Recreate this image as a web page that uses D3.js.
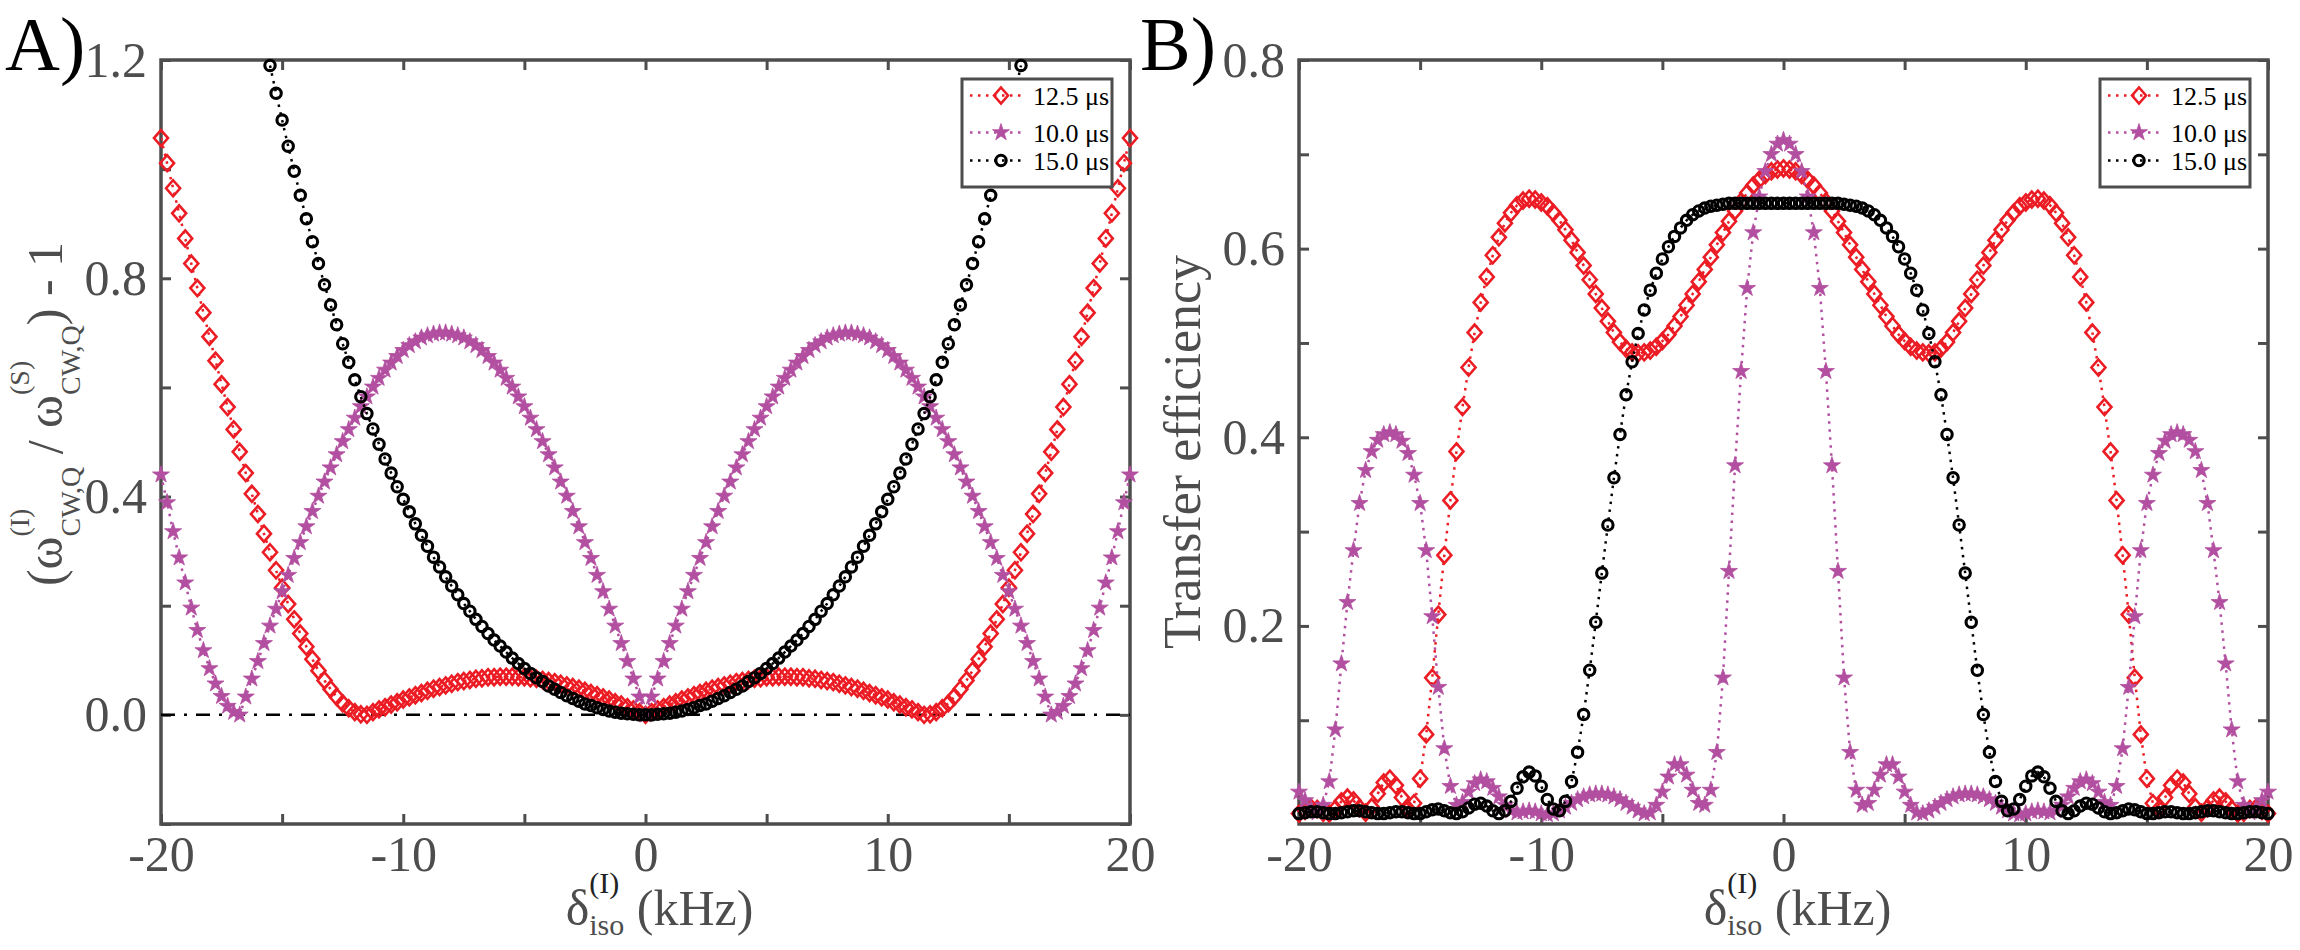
<!DOCTYPE html>
<html>
<head>
<meta charset="utf-8">
<title>Transfer efficiency vs offset</title>
<script src="https://d3js.org/d3.v7.min.js"></script>
<style>
  body { margin: 0; background: #fff; }
  svg text { font-family: 'Liberation Serif', 'Times New Roman', serif; }
</style>
</head>
<body>
<svg id="fig" width="2300" height="950"></svg>
<script>
// offset grid, kHz (-20 .. 20, 0.25 steps)
var offsets = d3.range(161).map(function (i) { return -20 + i * 0.25; });

var seriesNames = ['12.5 \u03bcs', '10.0 \u03bcs', '15.0 \u03bcs'];

// panel A : (w_CW,Q(I) / w_CW,Q(S)) - 1
var ratioRed = [
  1.057,1.011,.965,.919,.873,.827,.782,.737,.693,.649,
  .606,.564,.523,.482,.443,.405,.368,.332,.298,.265,
  .233,.203,.175,.149,.125,.102,.081,.063,.047,.033,
  .021,.012,.005,.001,0,.005,.010,.014,.019,.023,
  .028,.032,.036,.040,.044,.048,.051,.054,.057,.060,
  .062,.064,.066,.067,.069,.069,.070,.070,.070,.069,
  .069,.067,.066,.064,.062,.060,.057,.054,.051,.048,
  .044,.040,.036,.032,.028,.023,.019,.014,.010,.005,
  0,
  .005,.010,.014,.019,.023,.028,.032,.036,.040,.044,
  .048,.051,.054,.057,.060,.062,.064,.066,.067,.069,
  .069,.070,.070,.070,.069,.069,.067,.066,.064,.062,
  .060,.057,.054,.051,.048,.044,.040,.036,.032,.028,
  .023,.019,.014,.010,.005,0,.001,.005,.012,.021,
  .033,.047,.063,.081,.102,.125,.149,.175,.203,.233,
  .265,.298,.332,.368,.405,.443,.482,.523,.564,.606,
  .649,.693,.737,.782,.827,.873,.919,.965,1.011,1.057
];
var ratioMag = [
  .440,.389,.336,.288,.242,.196,.155,.118,.085,.057,
  .034,.016,.005,0,.033,.066,.098,.131,.163,.194,
  .226,.256,.287,.316,.345,.373,.401,.427,.453,.477,
  .501,.523,.544,.565,.583,.601,.617,.632,.645,.657,
  .668,.677,.684,.691,.695,.698,.700,.700,.698,.695,
  .691,.684,.677,.668,.657,.645,.632,.617,.601,.583,
  .565,.544,.523,.501,.477,.453,.427,.401,.373,.345,
  .316,.287,.256,.226,.194,.163,.131,.098,.066,.033,
  0,
  .033,.066,.098,.131,.163,.194,.226,.256,.287,.316,
  .345,.373,.401,.427,.453,.477,.501,.523,.544,.565,
  .583,.601,.617,.632,.645,.657,.668,.677,.684,.691,
  .695,.698,.700,.700,.698,.695,.691,.684,.677,.668,
  .657,.645,.632,.617,.601,.583,.565,.544,.523,.501,
  .477,.453,.427,.401,.373,.345,.316,.287,.256,.226,
  .194,.163,.131,.098,.066,.033,0,.005,.016,.034,
  .057,.085,.118,.155,.196,.242,.288,.336,.389,.440
];
var ratioBlk = [
  null,null,null,null,null,null,null,null,null,null,
  null,null,null,null,null,null,null,null,1.190,1.139,
  1.090,1.042,.996,.952,.909,.867,.827,.788,.751,.715,
  .680,.646,.614,.583,.552,.524,.496,.469,.443,.418,
  .395,.372,.350,.329,.309,.289,.271,.253,.236,.220,
  .204,.190,.175,.162,.149,.137,.126,.115,.104,.094,
  .085,.076,.068,.061,.053,.047,.041,.035,.030,.025,
  .020,.017,.013,.010,.007,.005,.003,.002,.001,0,
  0,
  0,.001,.002,.003,.005,.007,.010,.013,.017,.020,
  .025,.030,.035,.041,.047,.053,.061,.068,.076,.085,
  .094,.104,.115,.126,.137,.149,.162,.175,.190,.204,
  .220,.236,.253,.271,.289,.309,.329,.350,.372,.395,
  .418,.443,.469,.496,.524,.552,.583,.614,.646,.680,
  .715,.751,.788,.827,.867,.909,.952,.996,1.042,1.090,
  1.139,1.190,null,null,null,null,null,null,null,null,
  null,null,null,null,null,null,null,null,null,null
];

// panel B : transfer efficiency
var effRed = [
  .001,.004,.007,.006,.002,.001,.006,.014,.018,.015,
  .007,.002,.008,.022,.034,.038,.031,.018,.006,.012,
  .038,.085,.145,.212,.275,.333,.385,.432,.474,.511,
  .543,.570,.593,.612,.627,.638,.646,.651,.653,.652,
  .649,.645,.638,.630,.620,.609,.596,.582,.567,.552,
  .537,.523,.511,.501,.494,.490,.489,.490,.492,.496,
  .502,.509,.518,.528,.540,.552,.565,.578,.591,.604,
  .617,.629,.640,.650,.659,.667,.673,.678,.682,.684,
  .685,
  .684,.682,.678,.673,.667,.659,.650,.640,.629,.617,
  .604,.591,.578,.565,.552,.540,.528,.518,.509,.502,
  .496,.492,.490,.489,.490,.494,.501,.511,.523,.537,
  .552,.567,.582,.596,.609,.620,.630,.638,.645,.649,
  .652,.653,.651,.646,.638,.627,.612,.593,.570,.543,
  .511,.474,.432,.385,.333,.275,.212,.145,.085,.038,
  .012,.006,.018,.031,.038,.034,.022,.008,.002,.007,
  .015,.018,.014,.006,.001,.002,.006,.007,.004,.001
];
var effMag = [
  .024,.015,.006,.002,.010,.035,.090,.160,.225,.280,
  .330,.365,.385,.397,.403,.405,.403,.396,.383,.360,
  .330,.280,.210,.135,.070,.030,.010,.013,.024,.033,
  .037,.035,.028,.019,.010,.004,.002,.003,.004,.003,
  .001,0,.001,.004,.008,.012,.016,.019,.021,.022,
  .022,.021,.019,.016,.012,.008,.004,.001,.002,.010,
  .024,.040,.053,.053,.042,.026,.012,.010,.026,.066,
  .145,.258,.370,.470,.558,.617,.655,.682,.700,.711,
  .715,
  .711,.700,.682,.655,.617,.558,.470,.370,.258,.145,
  .066,.026,.010,.012,.026,.042,.053,.053,.040,.024,
  .010,.002,.001,.004,.008,.012,.016,.019,.021,.022,
  .022,.021,.019,.016,.012,.008,.004,.001,0,.001,
  .003,.004,.003,.002,.004,.010,.019,.028,.035,.037,
  .033,.024,.013,.010,.030,.070,.135,.210,.280,.330,
  .360,.383,.396,.403,.405,.403,.397,.385,.365,.330,
  .280,.225,.160,.090,.035,.010,.002,.006,.015,.024
];
var effBlk = [
  .001,.002,.003,.003,.002,.001,.001,.002,.003,.004,
  .004,.003,.002,.001,.001,.002,.003,.003,.002,.001,
  .001,.003,.005,.006,.004,.002,.001,.003,.007,.011,
  .012,.009,.004,.001,.004,.014,.028,.040,.045,.041,
  .030,.016,.006,.004,.014,.035,.066,.106,.153,.204,
  .256,.307,.357,.403,.445,.480,.510,.535,.556,.574,
  .589,.602,.613,.622,.630,.636,.640,.643,.645,.646,
  .647,.648,.648,.648,.648,.648,.648,.648,.648,.648,
  .648,
  .648,.648,.648,.648,.648,.648,.648,.648,.648,.647,
  .646,.645,.643,.640,.636,.630,.622,.613,.602,.589,
  .574,.556,.535,.510,.480,.445,.403,.357,.307,.256,
  .204,.153,.106,.066,.035,.014,.004,.006,.016,.030,
  .041,.045,.040,.028,.014,.004,.001,.004,.009,.012,
  .011,.007,.003,.001,.002,.004,.006,.005,.003,.001,
  .001,.002,.003,.003,.002,.001,.001,.002,.003,.004,
  .004,.003,.002,.001,.001,.002,.003,.003,.002,.001
];

var xTicks = [-20, -15, -10, -5, 0, 5, 10, 15, 20];
var xLabels = [-20, -10, 0, 10, 20];
var ratioTicks = [-0.2, 0, 0.2, 0.4, 0.6, 0.8, 1.0, 1.2];
var ratioLabels = [0, 0.4, 0.8, 1.2];
var effTicks = [0.1, 0.2, 0.3, 0.4, 0.5, 0.6, 0.7, 0.8];
var effLabels = [0.2, 0.4, 0.6, 0.8];

var gray = '#4d4d4d';
var colors = ['#ec1c24', '#b24fa0', '#000000'];
var shapes = ['diamond', 'star', 'circle'];

var svg = d3.select('#fig');
svg.append('rect').attr('width', 2300).attr('height', 950).attr('fill', '#fff');

function marker(sel, shape, color) {
  if (shape === 'circle') {
    sel.append('circle').attr('r', 5.2).attr('fill', 'none')
      .attr('stroke', color).attr('stroke-width', 3.1);
  } else if (shape === 'diamond') {
    sel.append('path').attr('d', 'M0,-8L7,0L0,8L-7,0Z').attr('fill', 'none')
      .attr('stroke', color).attr('stroke-width', 2.6);
  } else {
    sel.append('path').attr('d', d3.symbol(d3.symbolStar, 90)())
      .attr('fill', color).attr('stroke', color).attr('stroke-width', 0.8);
  }
}

// text with stacked super/subscripts, laid out left to right
function mathText(parent, parts) {
  var g = parent.append('g');
  var cx = 0;
  parts.forEach(function (p) {
    var runs = Array.isArray(p) ? p : [p];
    var w = 0;
    runs.forEach(function (r) {
      var t = g.append('text')
        .attr('x', cx).attr('y', r.shift || 0)
        .attr('font-size', r.size)
        .attr('fill', r.fill || gray)
        .text(r.t);
      w = Math.max(w, t.node().getComputedTextLength());
    });
    cx += w;
  });
  return { g: g, width: cx };
}

function styleAxis(sel) {
  sel.select('.domain').remove();
  sel.attr('font-size', 50).attr('font-family', "'Liberation Serif', serif");
  sel.selectAll('line').attr('stroke', gray).attr('stroke-width', 3);
  sel.selectAll('text').attr('fill', gray);
}

function drawPanel(p) {
  var x = d3.scaleLinear().domain([-20, 20]).range([p.left, p.right]);
  var y = d3.scaleLinear().domain(p.yDomain).range([p.bottom, p.top]);
  var g = svg.append('g');

  svg.append('clipPath').attr('id', p.id + 'clip').append('rect')
    .attr('x', p.left).attr('y', p.top)
    .attr('width', p.right - p.left).attr('height', p.bottom - p.top);

  var fmtX = function (d) { return xLabels.indexOf(d) >= 0 ? String(d) : ''; };
  var fmtY = function (d) { return p.yLabels.indexOf(d) >= 0 ? d3.format('.1f')(d) : ''; };

  g.append('g').attr('transform', 'translate(0,' + p.bottom + ')')
    .call(d3.axisBottom(x).tickValues(xTicks).tickSize(-10).tickPadding(11).tickFormat(fmtX))
    .call(styleAxis);
  g.append('g').attr('transform', 'translate(0,' + p.top + ')')
    .call(d3.axisTop(x).tickValues(xTicks).tickSize(-10).tickFormat(''))
    .call(styleAxis);
  g.append('g').attr('transform', 'translate(' + p.left + ',0)')
    .call(d3.axisLeft(y).tickValues(p.yTicks).tickSize(-10).tickPadding(14).tickFormat(fmtY))
    .call(styleAxis);
  g.append('g').attr('transform', 'translate(' + p.right + ',0)')
    .call(d3.axisRight(y).tickValues(p.yTicks).tickSize(-10).tickFormat(''))
    .call(styleAxis);

  g.append('rect').attr('x', p.left).attr('y', p.top)
    .attr('width', p.right - p.left).attr('height', p.bottom - p.top)
    .attr('fill', 'none').attr('stroke', gray).attr('stroke-width', 3.5);

  if (p.zeroLine) {
    g.append('line').attr('x1', x(-20)).attr('x2', x(20))
      .attr('y1', y(0)).attr('y2', y(0))
      .attr('stroke', '#000').attr('stroke-width', 2.5)
      .attr('stroke-dasharray', '14,9,3,9');
  }

  var line = d3.line()
    .defined(function (d) { return d[1] != null; })
    .x(function (d) { return x(d[0]); })
    .y(function (d) { return y(d[1]); });

  p.series.forEach(function (vals, i) {
    var pts = offsets.map(function (o, j) { return [o, vals[j]]; });
    g.append('path').datum(pts)
      .attr('clip-path', 'url(#' + p.id + 'clip)')
      .attr('d', line).attr('fill', 'none')
      .attr('stroke', colors[i]).attr('stroke-width', 2.5)
      .attr('stroke-dasharray', '2.5,5.5');
    var shown = pts.filter(function (d) {
      return d[1] != null && d[1] >= p.yDomain[0] && d[1] <= p.yDomain[1];
    });
    var m = g.selectAll(null).data(shown).enter().append('g')
      .attr('transform', function (d) { return 'translate(' + x(d[0]) + ',' + y(d[1]) + ')'; });
    marker(m, shapes[i], colors[i]);
  });

  // legend
  var lx = p.right - 168, ly = 79;
  var lg = svg.append('g');
  lg.append('rect').attr('x', lx).attr('y', ly).attr('width', 150).attr('height', 108)
    .attr('fill', '#fff').attr('stroke', gray).attr('stroke-width', 3);
  var rows = [16.5, 53.5, 81.5];
  seriesNames.forEach(function (name, i) {
    var ry = ly + rows[i];
    lg.append('line').attr('x1', lx + 8).attr('x2', lx + 64).attr('y1', ry).attr('y2', ry)
      .attr('stroke', colors[i]).attr('stroke-width', 2.5).attr('stroke-dasharray', '2.5,5.5');
    var mk = lg.append('g').attr('transform', 'translate(' + (lx + 39) + ',' + ry + ')');
    marker(mk, shapes[i], colors[i]);
    lg.append('text').attr('x', lx + 71).attr('y', ry + 9)
      .attr('font-size', 26).attr('fill', '#000').text(name);
  });

  // x label
  var xl = mathText(svg, [
    { t: '\u03b4', size: 50 },
    [{ t: '(I)', size: 30, shift: -32, fill: '#222' }, { t: 'iso', size: 30, shift: 10 }],
    { t: '\u00a0(kHz)', size: 50 }
  ]);
  xl.g.attr('transform', 'translate(' + ((p.left + p.right) / 2 + 14 - xl.width / 2) + ',925)');

  svg.append('text').attr('x', p.panelX).attr('y', 70)
    .attr('font-size', 76).attr('fill', '#000').text(p.panelLabel);
}

drawPanel({
  id: 'a', left: 161, right: 1130, top: 60, bottom: 824,
  yDomain: [-0.2, 1.2], yTicks: ratioTicks, yLabels: ratioLabels,
  series: [ratioRed, ratioMag, ratioBlk], zeroLine: true,
  panelLabel: 'A)', panelX: 5
});
drawPanel({
  id: 'b', left: 1299, right: 2268, top: 60, bottom: 824,
  yDomain: [-0.01, 0.8], yTicks: effTicks, yLabels: effLabels,
  series: [effRed, effMag, effBlk], zeroLine: false,
  panelLabel: 'B)', panelX: 1140
});

// y labels
var yl = mathText(svg, [
  { t: '(\u03c9', size: 50 },
  [{ t: '(I)', size: 28, shift: -33 }, { t: 'CW,Q', size: 28, shift: 18 }],
  { t: '\u00a0/\u00a0\u03c9', size: 50 },
  [{ t: '(S)', size: 28, shift: -33 }, { t: 'CW,Q', size: 28, shift: 18 }],
  { t: ')\u00a0-\u00a01', size: 50 }
]);
yl.g.attr('transform', 'translate(62,' + (414 + yl.width / 2) + ') rotate(-90)');

svg.append('text')
  .attr('transform', 'translate(1200,452) rotate(-90)')
  .attr('text-anchor', 'middle').attr('font-size', 52).attr('fill', gray)
  .text('Transfer efficiency');
</script>
</body>
</html>
